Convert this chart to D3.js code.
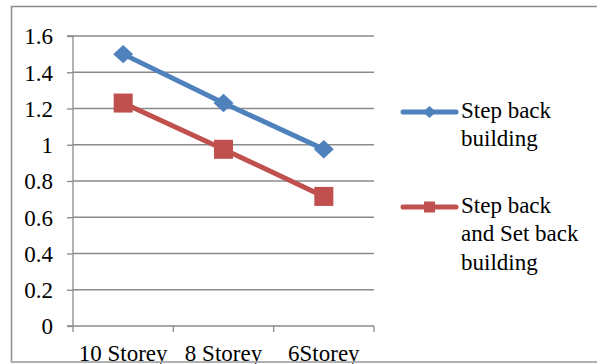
<!DOCTYPE html>
<html>
<head>
<meta charset="utf-8">
<script src="https://cdn.jsdelivr.net/npm/d3@7"></script>
<style>
  html, body { margin: 0; padding: 0; background: #fff; }
  svg { display: block; }
</style>
</head>
<body>
<svg id="chart" width="597" height="364"></svg>
<script>
// Storey categories and the two building series
const categories = ["10 Storey", "8 Storey", "6Storey"];
const stepBack = [1.5, 1.23, 0.975];
const stepSetBack = [1.23, 0.975, 0.715];
const yTicks = [0, 0.2, 0.4, 0.6, 0.8, 1, 1.2, 1.4, 1.6];
const yTickLabels = ["0", "0.2", "0.4", "0.6", "0.8", "1", "1.2", "1.4", "1.6"];
const seriesNames = [["Step back", "building"], ["Step back", "and Set back", "building"]];

const series = [
  { name: seriesNames[0], values: stepBack, color: "#4F81BD", marker: "diamond" },
  { name: seriesNames[1], values: stepSetBack, color: "#C0504D", marker: "square" }
];

const FONT = "Liberation Serif";
const fontSize = 23;
const axisColor = "#8a8a8a";

const svg = d3.select("#chart");

// chart frame
svg.append("rect")
  .attr("x", 11.5).attr("y", 6.5)
  .attr("width", 600).attr("height", 355.5)
  .attr("fill", "none").attr("stroke", "#8c8c8c").attr("stroke-width", 1.5);

const plot = { left: 73, right: 374, top: 36, bottom: 326 };

const x = d3.scaleBand().domain(categories).range([plot.left, plot.right]);
const y = d3.scaleLinear().domain([0, 1.6]).range([plot.bottom, plot.top]);

// horizontal gridlines
svg.append("g").selectAll("line").data(yTicks.filter(d => d > 0)).join("line")
  .attr("x1", plot.left).attr("x2", plot.right)
  .attr("y1", d => y(d)).attr("y2", d => y(d))
  .attr("stroke", axisColor).attr("stroke-width", 1.3);

// y axis
const yAxis = d3.axisLeft(y).tickValues(yTicks).tickSize(6).tickPadding(14)
  .tickFormat((d, i) => yTickLabels[i]);
const gy = svg.append("g").attr("transform", `translate(${plot.left},0)`).call(yAxis)
  .attr("font-family", FONT).attr("font-size", fontSize);
gy.select(".domain").attr("stroke", axisColor).attr("stroke-width", 1.3)
  .attr("d", `M-6,${plot.top}H0V${plot.bottom}`);
gy.selectAll(".tick line").attr("stroke", axisColor).attr("stroke-width", 1.3);
gy.selectAll(".tick text").attr("fill", "#000").attr("dy", "0.34em");

// x axis with ticks at category boundaries
const gx = svg.append("g").attr("transform", `translate(0,${plot.bottom})`);
gx.append("line").attr("x1", plot.left - 6).attr("x2", plot.right)
  .attr("stroke", axisColor).attr("stroke-width", 1.3);
const bounds = categories.map(c => x(c)).concat([plot.right]);
gx.selectAll("line.tk").data(bounds).join("line").attr("class", "tk")
  .attr("x1", d => d).attr("x2", d => d).attr("y1", 0).attr("y2", 6)
  .attr("stroke", axisColor).attr("stroke-width", 1.3);
gx.selectAll("text").data(categories).join("text")
  .attr("x", d => x(d) + x.bandwidth() / 2).attr("y", 34.5)
  .attr("text-anchor", "middle").attr("font-family", FONT).attr("font-size", fontSize)
  .text(d => d);

// bottom frame edge runs across the category labels
svg.append("line").attr("x1", 11).attr("x2", 597).attr("y1", 362).attr("y2", 362)
  .attr("stroke", "#b4b4b4").attr("stroke-width", 1.5);

const line = d3.line().x((d, i) => x(categories[i]) + x.bandwidth() / 2).y(d => y(d));

function drawMarker(g, type, cx, cy, size, color) {
  if (type === "diamond") {
    const h = size / 2;
    g.append("path")
      .attr("d", `M${cx},${cy - h * 0.92}L${cx + h},${cy}L${cx},${cy + h * 0.92}L${cx - h},${cy}Z`)
      .attr("fill", color);
  } else {
    g.append("rect").attr("x", cx - size / 2).attr("y", cy - size / 2)
      .attr("width", size).attr("height", size).attr("fill", color);
  }
}

series.forEach(s => {
  const g = svg.append("g");
  g.append("path").datum(s.values).attr("d", line)
    .attr("fill", "none").attr("stroke", s.color).attr("stroke-width", 5)
    .attr("stroke-linejoin", "round");
  s.values.forEach((v, i) => {
    drawMarker(g, s.marker, x(categories[i]) + x.bandwidth() / 2, y(v),
      s.marker === "diamond" ? 20 : 19, s.color);
  });
});

// legend
const legendY = [112, 207];
series.forEach((s, k) => {
  const g = svg.append("g");
  const ly = legendY[k];
  g.append("line").attr("x1", 403).attr("x2", 456).attr("y1", ly).attr("y2", ly)
    .attr("stroke", s.color).attr("stroke-width", 5).attr("stroke-linecap", "round");
  drawMarker(g, s.marker, 429.5, ly, s.marker === "diamond" ? 13 : 11, s.color);
  const t = g.append("text").attr("x", 461).attr("y", ly + 6)
    .attr("font-family", FONT).attr("font-size", fontSize);
  s.name.forEach((ln, j) => {
    t.append("tspan").attr("x", 461).attr("dy", j === 0 ? 0 : 28.3).text(ln);
  });
});
</script>
</body>
</html>
